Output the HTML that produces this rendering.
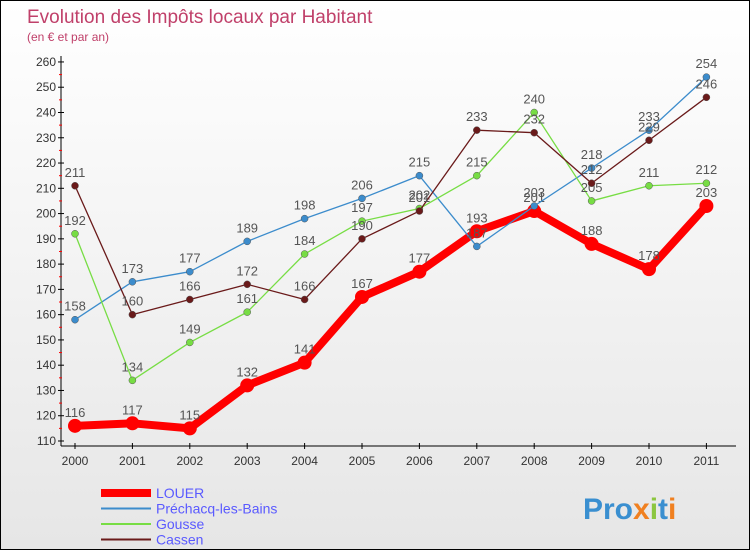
<!DOCTYPE html>
<html><head><meta charset="utf-8"><style>
body{margin:0}
#c{width:748px;height:548px;border:1px solid #000;background:linear-gradient(#fff,#e6e6e6);position:relative;font-family:"Liberation Sans",sans-serif}
</style></head><body>
<div id="c">
<svg width="748" height="548" id="s">
<text x="26" y="22" font-size="19" fill="#c0406a">Evolution des Impôts locaux par Habitant</text>
<text x="26" y="40" font-size="12" fill="#c0406a">(en € et par an)</text>
<text x="582" y="518" font-size="30" font-weight="bold" fill="#3a8fd0">Pro<tspan fill="#f08020">x</tspan><tspan fill="#8cc63f">i</tspan>t<tspan fill="#f08020">i</tspan></text>
</svg>
</div>
<script>
const years=["2000","2001","2002","2003","2004","2005","2006","2007","2008","2009","2010","2011"];
const yTicks=[110,120,130,140,150,160,170,180,190,200,210,220,230,240,250,260];
const louer=[116,117,115,132,141,167,177,193,201,188,178,203];
const prechacq=[158,173,177,189,198,206,215,187,203,218,233,254];
const gousse=[192,134,149,161,184,197,202,215,240,205,211,212];
const cassen=[211,160,166,172,166,190,201,233,232,212,229,246];
const NS="http://www.w3.org/2000/svg";
const s=document.getElementById('s');
const X=i=>74+i*57.4;
const Y=v=>440-(v-110)*2.527;
function el(t,a,p){const e=document.createElementNS(NS,t);for(const k in a)e.setAttribute(k,a[k]);(p||s).appendChild(e);return e;}
let ax=el('line',{x1:60,y1:55,x2:60,y2:445,stroke:'#000'});


let bx=el('line',{x1:60,y1:445,x2:735,y2:445,stroke:'#000'});


yTicks.forEach(v=>{
 el('line',{x1:57,y1:Y(v),x2:63,y2:Y(v),stroke:'#000'});
 if(v<260)el('line',{x1:58,y1:Y(v+5),x2:61,y2:Y(v+5),stroke:'red'});
 const t=el('text',{x:55,y:Y(v)+4,'font-size':12,fill:'#333','text-anchor':'end'});t.textContent=v;
 
 
});
years.forEach((y,i)=>{
 el('line',{x1:X(i),y1:442,x2:X(i),y2:448,stroke:'#000'});
 const t=el('text',{x:X(i),y:464,'font-size':12,fill:'#333','text-anchor':'middle'});t.textContent=y;
 
 
});
function series(d,col,w,r,name){
 const g=el('g',{});
 
 
 el('polyline',{points:d.map((v,i)=>X(i)+','+Y(v)).join(' '),fill:'none',stroke:col,'stroke-width':w,'stroke-linejoin':'round'},g);
 d.forEach((v,i)=>{
  const c=el('circle',{cx:X(i),cy:Y(v),r:r,fill:col,stroke:'#555','stroke-width':w>3?0:0.5},g);
  
  
  const t=el('text',{x:X(i),y:Y(v)-9,'font-size':13,fill:'#555','text-anchor':'middle'},g);t.textContent=v;
 });
}
series(louer,'#ff0000',8,7,'louer');
series(prechacq,'#3c8ccc',1.3,3.5,'prechacq');
series(gousse,'#77dd44',1.3,3.5,'gousse');
series(cassen,'#6a1a1a',1.3,3.5,'cassen');
const legend=[['LOUER','#ff0000',8],['Préchacq-les-Bains','#3c8ccc',2],['Gousse','#77dd44',2],['Cassen','#6a1a1a',2]];
legend.forEach((l,i)=>{
 const y=492+i*15.5;
 const g=el('g',{});
 
 
 el('line',{x1:100,y1:y,x2:150,y2:y,stroke:l[1],'stroke-width':l[2]},g);
 const t=el('text',{x:155,y:y+5,'font-size':14,fill:'#5a5aff'},g);t.textContent=l[0];
});
</script>
</body></html>
